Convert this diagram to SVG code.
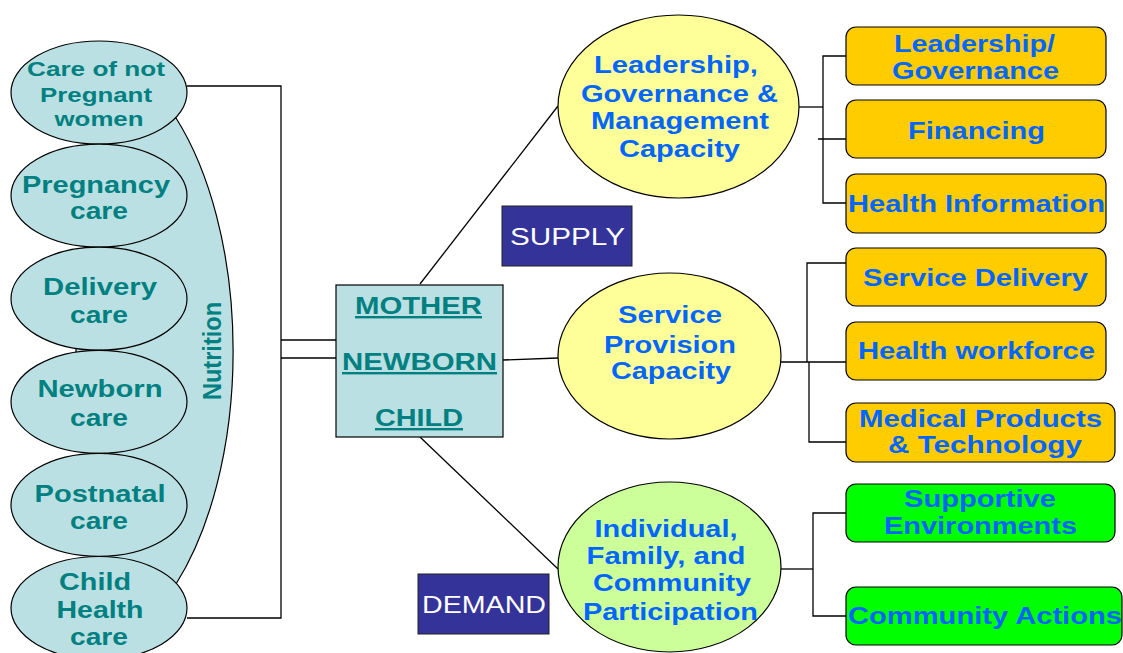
<svg xmlns="http://www.w3.org/2000/svg" width="1123" height="653" viewBox="0 0 1123 653">
  <style>
    .bg { fill: #ffffff; }
    .line { stroke: #000; stroke-width: 1.3; fill: none; }
    .care { fill: #BBE0E3; stroke: #000; stroke-width: 1.2; }
    .teal { font-family: "Liberation Sans", Arial, sans-serif; font-weight: bold; fill: #008080; text-anchor: middle; }
    .blue { font-family: "Liberation Sans", Arial, sans-serif; font-weight: bold; fill: #0066FF; text-anchor: middle; font-size: 23px; }
    .tag { fill: #333399; stroke: #222; stroke-width: 1; }
    .tagtxt { font-family: "Liberation Sans", Arial, sans-serif; fill: #ffffff; text-anchor: middle; font-size: 23px; }
    .cap { stroke: #000; stroke-width: 1.2; }
    .orange { fill: #FFCC00; stroke: #000; stroke-width: 1.2; }
    .green { fill: #00FF00; stroke: #000; stroke-width: 1.2; }
  </style>
  <rect class="bg" x="0" y="0" width="1123" height="653"/>

  <!-- Nutrition band behind the care stages -->
  <g id="nutrition">
    <path class="care" d="M 99,118 L 176,118 A 157 302 0 0 1 176,584 L 99,584 L 99,368 L 76,368 L 76,332 L 99,332 Z"/>
    <text class="teal" font-size="25" transform="translate(221,351) rotate(-90)" textLength="98" lengthAdjust="spacingAndGlyphs">Nutrition</text>
  </g>

  <!-- Connectors -->
  <g id="connectors">
    <polyline class="line" points="187,86 281,86 281,618 187,618"/>
    <line class="line" x1="281" y1="340" x2="336" y2="340"/>
    <line class="line" x1="281" y1="358" x2="336" y2="358"/>
    <line class="line" x1="420" y1="284" x2="558" y2="106"/>
    <line class="line" x1="503" y1="360" x2="558" y2="358"/>
    <line class="line" x1="420" y1="437" x2="558" y2="569"/>
    <!-- leadership branch -->
    <line class="line" x1="799" y1="107" x2="823" y2="107"/>
    <polyline class="line" points="846,56 823,56 823,203 846,203"/>
    <line class="line" x1="818" y1="139" x2="856" y2="139"/>
    <!-- service provision branch -->
    <line class="line" x1="781" y1="362" x2="846" y2="362"/>
    <polyline class="line" points="846,263 807,263 807,362"/>
    <polyline class="line" points="809,362 809,442 846,442"/>
    <!-- participation branch -->
    <line class="line" x1="781" y1="569" x2="813" y2="569"/>
    <polyline class="line" points="846,513 813,513 813,616 846,616"/>
  </g>

  <!-- Care stages -->
  <g id="care-not-pregnant">
    <ellipse class="care" cx="99" cy="92.5" rx="88" ry="51.5"/>
    <text class="teal" font-size="21" x="96" y="76" textLength="138" lengthAdjust="spacingAndGlyphs">Care of not</text>
    <text class="teal" font-size="21" x="96" y="102" textLength="112" lengthAdjust="spacingAndGlyphs">Pregnant</text>
    <text class="teal" font-size="21" x="99" y="126" textLength="89" lengthAdjust="spacingAndGlyphs">women</text>
  </g>
  <g id="pregnancy-care">
    <ellipse class="care" cx="99" cy="195.6" rx="88" ry="51.5"/>
    <text class="teal" font-size="24" x="96" y="193" textLength="148" lengthAdjust="spacingAndGlyphs">Pregnancy</text>
    <text class="teal" font-size="24" x="99" y="219" textLength="58" lengthAdjust="spacingAndGlyphs">care</text>
  </g>
  <g id="delivery-care">
    <ellipse class="care" cx="99" cy="298.7" rx="88" ry="51.5"/>
    <text class="teal" font-size="24" x="100" y="295" textLength="114" lengthAdjust="spacingAndGlyphs">Delivery</text>
    <text class="teal" font-size="24" x="99" y="323" textLength="58" lengthAdjust="spacingAndGlyphs">care</text>
  </g>
  <g id="newborn-care">
    <ellipse class="care" cx="99" cy="401.8" rx="88" ry="51.5"/>
    <text class="teal" font-size="24" x="100" y="397" textLength="125" lengthAdjust="spacingAndGlyphs">Newborn</text>
    <text class="teal" font-size="24" x="99" y="426" textLength="58" lengthAdjust="spacingAndGlyphs">care</text>
  </g>
  <g id="postnatal-care">
    <ellipse class="care" cx="99" cy="504.9" rx="88" ry="51.5"/>
    <text class="teal" font-size="24" x="100" y="502" textLength="131" lengthAdjust="spacingAndGlyphs">Postnatal</text>
    <text class="teal" font-size="24" x="99" y="529" textLength="58" lengthAdjust="spacingAndGlyphs">care</text>
  </g>
  <g id="child-health-care">
    <ellipse class="care" cx="99" cy="608" rx="88" ry="51.5"/>
    <text class="teal" font-size="24" x="95" y="590" textLength="72" lengthAdjust="spacingAndGlyphs">Child</text>
    <text class="teal" font-size="24" x="100" y="618" textLength="87" lengthAdjust="spacingAndGlyphs">Health</text>
    <text class="teal" font-size="24" x="99" y="645" textLength="58" lengthAdjust="spacingAndGlyphs">care</text>
  </g>

  <!-- Central box -->
  <g id="mother-newborn-child">
    <rect class="care" x="336" y="285" width="167" height="152"/>
    <text class="teal" font-size="24" x="418.5" y="314" text-decoration="underline" textLength="127" lengthAdjust="spacingAndGlyphs">MOTHER</text>
    <text class="teal" font-size="24" x="419.5" y="370" text-decoration="underline" textLength="155" lengthAdjust="spacingAndGlyphs">NEWBORN</text>
    <text class="teal" font-size="24" x="419" y="426" text-decoration="underline" textLength="88" lengthAdjust="spacingAndGlyphs">CHILD</text>
  </g>

  <!-- Supply / demand tags -->
  <g id="supply">
    <rect class="tag" x="502" y="206" width="130" height="60"/>
    <text class="tagtxt" x="567.5" y="245" textLength="115" lengthAdjust="spacingAndGlyphs">SUPPLY</text>
  </g>
  <g id="demand">
    <rect class="tag" x="418" y="574" width="131" height="60"/>
    <text class="tagtxt" x="484" y="613" textLength="124" lengthAdjust="spacingAndGlyphs">DEMAND</text>
  </g>

  <!-- Capacities -->
  <g id="leadership-capacity">
    <ellipse class="cap" fill="#FFFF99" cx="678.5" cy="106.5" rx="120.5" ry="91.5"/>
    <text class="blue" x="676" y="73" textLength="164" lengthAdjust="spacingAndGlyphs">Leadership,</text>
    <text class="blue" x="679.5" y="102" textLength="197" lengthAdjust="spacingAndGlyphs">Governance &amp;</text>
    <text class="blue" x="680" y="129" textLength="178" lengthAdjust="spacingAndGlyphs">Management</text>
    <text class="blue" x="679.5" y="157" textLength="121" lengthAdjust="spacingAndGlyphs">Capacity</text>
  </g>
  <g id="service-provision">
    <ellipse class="cap" fill="#FFFF99" cx="669.5" cy="356" rx="111.5" ry="83"/>
    <text class="blue" x="670" y="323" textLength="104" lengthAdjust="spacingAndGlyphs">Service</text>
    <text class="blue" x="670" y="353" textLength="132" lengthAdjust="spacingAndGlyphs">Provision</text>
    <text class="blue" x="671" y="379" textLength="120" lengthAdjust="spacingAndGlyphs">Capacity</text>
  </g>
  <g id="participation">
    <ellipse class="cap" fill="#CCFF99" cx="669.5" cy="567" rx="111.5" ry="85"/>
    <text class="blue" x="666" y="537" textLength="143" lengthAdjust="spacingAndGlyphs">Individual,</text>
    <text class="blue" x="666" y="564" textLength="159" lengthAdjust="spacingAndGlyphs">Family, and</text>
    <text class="blue" x="672" y="591" textLength="158" lengthAdjust="spacingAndGlyphs">Community</text>
    <text class="blue" x="670.5" y="620" textLength="175" lengthAdjust="spacingAndGlyphs">Participation</text>
  </g>

  <!-- Building blocks -->
  <g id="leadership-governance">
    <rect class="orange" x="846" y="27" width="260" height="58" rx="10"/>
    <text class="blue" x="974.5" y="52" textLength="161" lengthAdjust="spacingAndGlyphs">Leadership/</text>
    <text class="blue" x="975.5" y="79" textLength="167" lengthAdjust="spacingAndGlyphs">Governance</text>
  </g>
  <g id="financing">
    <rect class="orange" x="846" y="100" width="260" height="58" rx="10"/>
    <text class="blue" x="976.5" y="139" textLength="137" lengthAdjust="spacingAndGlyphs">Financing</text>
  </g>
  <g id="health-information">
    <rect class="orange" x="846" y="174" width="260" height="59" rx="10"/>
    <text class="blue" x="976.5" y="212" textLength="257" lengthAdjust="spacingAndGlyphs">Health Information</text>
  </g>
  <g id="service-delivery">
    <rect class="orange" x="846" y="248" width="260" height="58" rx="10"/>
    <text class="blue" x="975.5" y="286" textLength="225" lengthAdjust="spacingAndGlyphs">Service Delivery</text>
  </g>
  <g id="health-workforce">
    <rect class="orange" x="846" y="322" width="260" height="58" rx="10"/>
    <text class="blue" x="976.5" y="359" textLength="237" lengthAdjust="spacingAndGlyphs">Health workforce</text>
  </g>
  <g id="medical-products">
    <rect class="orange" x="846" y="403" width="269" height="59" rx="10"/>
    <text class="blue" x="980.5" y="427" textLength="243" lengthAdjust="spacingAndGlyphs">Medical Products</text>
    <text class="blue" x="985" y="453" textLength="194" lengthAdjust="spacingAndGlyphs">&amp; Technology</text>
  </g>
  <g id="supportive-environments">
    <rect class="green" x="846" y="484" width="269" height="58" rx="10"/>
    <text class="blue" x="980" y="507" textLength="152" lengthAdjust="spacingAndGlyphs">Supportive</text>
    <text class="blue" x="980.5" y="534" textLength="193" lengthAdjust="spacingAndGlyphs">Environments</text>
  </g>
  <g id="community-actions">
    <rect class="green" x="846" y="587" width="276" height="58" rx="10"/>
    <text class="blue" x="985" y="624" textLength="274" lengthAdjust="spacingAndGlyphs">Community Actions</text>
  </g>
</svg>
